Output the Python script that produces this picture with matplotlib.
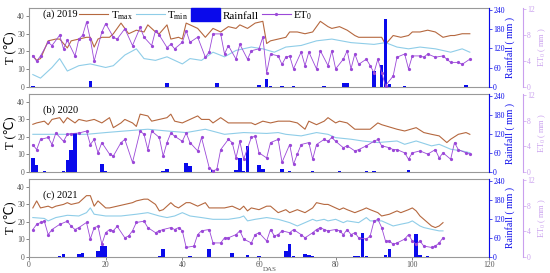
import matplotlib
matplotlib.use("Agg")
import matplotlib.pyplot as plt
from matplotlib.patches import Patch
from matplotlib.lines import Line2D

plt.rcParams['font.family'] = ['Liberation Serif', 'DejaVu Sans']
plt.rcParams['mathtext.fontset'] = 'custom'
plt.rcParams['mathtext.rm'] = 'Liberation Serif'
plt.rcParams['mathtext.it'] = 'Liberation Serif:italic'

# ---- 2019 ----
tmax19_day = [1, 2, 3, 5, 7, 8, 10, 11, 13, 15, 16, 17, 18, 19, 21, 22, 24, 26, 28, 30,
              31, 33, 34, 36, 37, 39, 40, 41, 43, 44, 46, 48, 50, 52, 54, 55, 57, 59, 61, 62,
              63, 65, 67, 68, 70, 72, 74, 76, 78, 79, 81, 83, 85, 86, 88, 90, 92, 93, 95, 97,
              99, 100, 102, 104, 106, 108, 110, 111, 113, 115]
tmax19 = [17.7, 15, 16, 26, 27, 27, 22, 26, 27, 28, 28, 22.5, 27, 28, 28, 30, 36, 30, 32, 31,
          35, 31, 30, 35, 27, 28, 27, 36, 34, 33, 28, 33, 31, 34, 33, 35, 33, 36, 37, 24.5,
          26, 27, 28, 31, 31, 30, 31, 37, 34, 33, 34, 32, 29, 28, 28, 28, 28, 24, 29, 28,
          29, 31, 31, 32, 31, 28, 29, 29, 30, 30]
tmin19_day = [1, 3, 6, 8, 10, 13, 16, 18, 20, 22, 25, 28, 30, 33, 36, 40, 42, 45, 48, 51,
              54, 58, 61, 64, 67, 71, 75, 79, 84, 90, 93, 96, 99, 102, 106, 110, 113, 115]
tmin19 = [7, 5, 11, 16, 9, 12, 13, 12, 11, 12, 18, 21.5, 16, 15, 17, 13, 16, 15, 19.6, 17,
          20.6, 22.5, 21.5, 19.6, 22.5, 23.4, 26, 27, 25, 24, 25, 22.5, 21.5, 22.5, 21.5, 19.6, 21.5, 19.6]
et19_day = [1, 2, 3, 5, 6, 8, 9, 10, 12, 13, 14, 15, 16, 17, 19, 20, 22, 23, 25, 27,
            29, 30, 32, 33, 34, 36, 37, 38, 40, 41, 42, 44, 46, 47, 48, 50, 51, 52, 54, 55,
            57, 58, 60, 61, 62, 63, 65, 66, 67, 68, 69, 71, 72, 73, 75, 76, 78, 79, 80, 82,
            83, 84, 85, 86, 88, 89, 90, 91, 92, 93, 95, 96, 98, 99, 100, 102, 103, 104, 106, 108,
            109, 110, 112, 113, 115]
et19 = [4.8, 4.0, 4.8, 6.9, 6.4, 8.0, 5.9, 7.2, 4.8, 7.4, 8.0, 10.0, 7.4, 4.0, 8.5, 9.8, 7.7, 7.4, 9.0, 6.4,
        9.2, 7.7, 6.4, 8.7, 8.0, 6.1, 6.6, 5.9, 6.9, 8.7, 6.9, 7.7, 4.6, 5.4, 8.2, 8.2, 5.1, 6.4, 4.3, 6.6,
        4.3, 5.6, 5.9, 7.7, 2.2, 5.1, 4.8, 3.5, 4.6, 4.8, 2.8, 5.4, 3.3, 5.4, 2.8, 5.6, 3.3, 5.6, 2.8, 4.3,
        5.6, 2.8, 5.1, 3.5, 4.3, 3.3, 2.2, 4.3, 2.2, 0.2, 1.7, 4.6, 5.1, 2.8, 4.8, 4.8, 4.6, 5.1, 4.6, 4.8,
        4.3, 3.8, 3.8, 3.5, 4.3]
rain19_day = [1, 16, 36, 49, 60, 62, 63, 66, 69, 77, 82, 83, 90, 92, 93, 94, 98, 114]
rain19 = [3, 19, 11, 11, 5, 26, 3, 3, 3, 3, 11, 11, 50, 68, 211, 8, 2, 7]

# ---- 2020 ----
tmax20_day = [1, 2, 4, 5, 6, 8, 9, 10, 12, 13, 15, 17, 19, 21, 22, 24, 25, 27, 28, 29,
              31, 32, 34, 36, 37, 38, 40, 42, 44, 45, 47, 48, 50, 52, 54, 56, 58, 59, 61, 63,
              65, 67, 68, 70, 72, 73, 75, 77, 78, 80, 81, 83, 85, 87, 89, 91, 92, 96, 98, 101,
              103, 105, 107, 109, 110, 112, 114, 115]
tmax20 = [27.2, 28, 29, 27, 30, 31, 28, 31, 28, 30, 29, 30, 28, 31, 25.3, 28, 30, 28, 26, 33,
          32, 29, 30, 31, 33, 29, 28, 30, 32, 30, 30, 28, 31, 28, 28, 28, 28, 27, 29, 28,
          29, 29, 29, 28, 24.4, 29, 27, 29, 31, 28, 29, 28, 24.4, 24.4, 24.4, 28, 27, 24.4, 23.4, 25.3,
          22.5, 21.5, 20.6, 16.8, 18.7, 21.5, 22.5, 21.5]
tmin20_day = [1, 5, 10, 15, 20, 25, 31, 36, 41, 46, 51, 56, 62, 65, 67, 71, 75, 78, 80, 84,
              87, 91, 96, 98, 101, 105, 107, 110, 113, 115]
tmin20 = [21.5, 21.5, 21.5, 21.5, 22.5, 23.4, 24.4, 23.4, 22.5, 24.4, 21.5, 22.5, 22, 22.5, 21.5,
          20.6, 22.5, 21.5, 19.6, 18.7, 17.7, 16.8, 17.7, 15.8, 17.7, 14.9, 15.8, 13, 12, 11]
et20_day = [1, 2, 3, 5, 6, 7, 9, 10, 11, 13, 15, 16, 17, 18, 19, 21, 22, 24, 25, 27,
            29, 30, 31, 32, 34, 35, 36, 37, 38, 40, 41, 42, 44, 45, 47, 48, 49, 50, 52, 53,
            54, 55, 56, 58, 59, 60, 62, 63, 65, 66, 68, 69, 70, 71, 73, 74, 75, 77, 78, 79,
            80, 82, 83, 85, 86, 88, 90, 91, 92, 94, 95, 96, 98, 99, 100, 102, 104, 106, 107, 108,
            110, 111, 112, 114, 115]
et20 = [4.3, 3.5, 5.1, 5.4, 4.3, 6.1, 4.8, 5.9, 6.0, 6.1, 6.4, 4.3, 5.1, 3.0, 4.6, 2.8, 2.5, 4.6, 5.1, 1.5,
        6.4, 5.9, 3.5, 6.4, 5.4, 2.5, 4.6, 6.1, 5.6, 4.8, 6.1, 4.6, 3.3, 5.4, 0.7, 0.2, 0.4, 3.5, 5.1, 4.6,
        2.2, 4.8, 2.0, 5.4, 5.6, 3.0, 2.2, 4.6, 5.1, 1.5, 4.3, 1.2, 2.8, 4.3, 4.6, 2.0, 4.3, 5.1, 4.8, 5.4,
        4.8, 3.8, 4.1, 3.3, 3.5, 4.1, 4.8, 5.1, 4.1, 3.8, 3.5, 3.5, 3.0, 2.0, 3.0, 3.3, 2.8, 3.5, 2.2, 3.0,
        2.0, 4.6, 3.5, 3.0, 2.8]
rain20_day = [1, 2, 4, 5, 9, 10, 11, 12, 13, 19, 20, 35, 36, 41, 42, 48, 54, 55, 56, 57,
              60, 61, 66, 68, 74, 81, 88, 90, 99]
rain20 = [45, 22, 2, 1, 2, 37, 69, 123, 1, 24, 3, 3, 8, 29, 19, 5, 6, 45, 4, 81,
          22, 8, 8, 3, 2, 3, 2, 3, 5]

# ---- 2021 ----
tmax21_day = [1, 2, 3, 5, 6, 7, 9, 10, 11, 13, 14, 15, 16, 17, 18, 20, 21, 23, 25, 27,
              28, 30, 31, 33, 34, 35, 37, 38, 39, 41, 42, 44, 46, 47, 49, 51, 53, 55, 56, 57,
              58, 60, 62, 63, 65, 67, 68, 70, 72, 74, 75, 77, 78, 79, 81, 82, 83, 85, 87, 88,
              89, 91, 92, 94, 96, 97, 99, 100, 101, 102, 104, 105, 106, 107, 108]
tmax21 = [28, 32, 28, 29, 28, 29, 30, 31, 30, 31, 33, 35, 35, 29, 32, 28, 28, 29, 30, 31,
          32, 33, 33, 30, 26.3, 27, 31, 29, 28, 31, 31, 29, 31, 28, 28, 28, 29, 27, 29, 26.3,
          28, 27, 29, 29, 25.3, 27, 25.3, 27, 25.3, 28, 31, 30, 30, 29, 27, 28, 27, 25.3, 27, 28,
          27, 25.3, 23.4, 24.4, 26.3, 25.3, 27, 28, 26.3, 23.4, 19.6, 17.7, 16.8, 17.7, 19.6]
tmin21_day = [1, 4, 5, 7, 10, 13, 15, 16, 17, 20, 24, 28, 31, 34, 36, 38, 40, 42, 45, 48,
              52, 55, 56, 57, 59, 62, 65, 68, 70, 72, 74, 75, 77, 78, 80, 82, 83, 86, 88, 89,
              92, 95, 97, 99, 100, 102, 103, 105, 107, 108]
tmin21 = [22.5, 22, 20.6, 22.5, 23.8, 23.4, 25.3, 28, 24.4, 23.4, 23.4, 24.4, 25.3, 23.4, 22.5, 23.4, 25.3, 23.4, 22.5, 21.5,
          21.5, 22.5, 23.4, 20.6, 21.5, 22.5, 21.5, 19.6, 17.7, 19.6, 21.5, 20.6, 21.5, 20.6, 21.5, 19.6, 20.6, 19.6, 22.5, 20.6,
          20.6, 17.7, 18.7, 19.6, 20.6, 17.7, 16.8, 15.8, 14.9, 14.9]
et21_day = [1, 2, 3, 4, 5, 6, 8, 10, 11, 12, 13, 15, 16, 17, 18, 19, 20, 21, 22, 23,
            25, 26, 27, 28, 30, 31, 33, 34, 35, 37, 38, 39, 40, 41, 43, 44, 45, 47, 48, 50,
            51, 52, 54, 55, 56, 58, 59, 60, 62, 63, 64, 65, 66, 68, 69, 71, 72, 74, 75, 76,
            77, 78, 80, 81, 82, 83, 84, 85, 86, 88, 89, 90, 91, 92, 93, 94, 95, 96, 98, 99,
            100, 101, 102, 103, 105, 106, 107, 108]
et21 = [4.3, 5.1, 5.4, 5.6, 3.5, 4.3, 5.1, 5.6, 4.8, 4.3, 4.6, 5.4, 2.8, 4.6, 4.8, 2.0, 3.8, 4.3, 4.1, 4.8,
        3.0, 3.3, 4.1, 5.4, 5.6, 4.6, 3.8, 4.1, 4.3, 4.6, 4.3, 4.6, 4.1, 1.5, 1.7, 3.5, 4.1, 4.3, 2.2, 2.2,
        3.0, 3.0, 3.5, 4.1, 2.8, 2.2, 3.5, 3.8, 2.5, 4.3, 3.3, 3.5, 4.1, 3.8, 4.3, 3.5, 3.0, 3.8, 4.3, 4.6,
        4.3, 4.1, 4.3, 4.1, 3.5, 4.3, 3.5, 3.8, 3.0, 2.8, 3.3, 5.6, 5.9, 4.6, 2.5, 2.5, 2.0, 2.2, 2.8, 3.5,
        2.5, 2.0, 2.5, 1.7, 1.5, 1.7, 2.2, 3.0]
rain21_day = [8, 9, 13, 14, 18, 19, 20, 34, 35, 42, 47, 53, 57, 60, 67, 68, 69, 72, 73, 74,
              85, 86, 87, 88, 93, 94, 101, 102, 104]
rain21 = [3, 8, 11, 13, 19, 34, 34, 3, 26, 2, 24, 13, 6, 2, 19, 40, 3, 11, 6, 2,
          2, 2, 76, 3, 5, 24, 74, 6, 3]

labels = ['(a) 2019', '(b) 2020', '(c) 2021']

c_tmax = '#b5683f'
c_tmin = '#8fcde8'
c_rain = '#0a0aeb'
c_et = '#9b48d8'
c_et_ax = '#c9a0ee'
c_grey = '#999999'

fig = plt.figure(figsize=(5.5, 2.73), dpi=100)

# axes rectangles in pixels: (top, bottom)
rows = [(8, 87), (94, 172), (179, 257)]
left, right = 29, 489
W, H = 550, 273

years = [
    (tmax19_day, tmax19, tmin19_day, tmin19, et19_day, et19, rain19_day, rain19),
    (tmax20_day, tmax20, tmin20_day, tmin20, et20_day, et20, rain20_day, rain20),
    (tmax21_day, tmax21, tmin21_day, tmin21, et21_day, et21, rain21_day, rain21),
]

for i, (top, bot) in enumerate(rows):
    tx_d, tx, tn_d, tn, e_d, e, r_d, r = years[i]
    ax = fig.add_axes([left / W, 1 - bot / H, (right - left) / W, (bot - top) / H])
    ax2 = ax.twinx()
    ax3 = ax.twinx()

    ax.plot(tx_d, tx, color=c_tmax, lw=0.8)
    ax.plot(tn_d, tn, color=c_tmin, lw=0.8)
    ax2.bar(r_d, r, width=0.9, color=c_rain)
    ax3.plot(e_d, e, color=c_et, lw=0.6, marker='o', ms=1.3)

    ax.set_xlim(0, 120)
    ax.set_ylim(0, 44.5)
    ax2.set_ylim(0, 246)
    ax3.set_ylim(0, 12.2)

    ax.set_yticks([0, 10, 20, 30, 40])
    ax2.set_yticks([0, 60, 120, 180, 240])
    ax3.set_yticks([0, 4, 8, 12])

    for s in ax.spines.values():
        s.set_color(c_grey)
    ax2.spines['right'].set_color(c_rain)
    for name in ['left', 'top', 'bottom']:
        ax2.spines[name].set_visible(False)
        ax3.spines[name].set_visible(False)
    # 34 px outward (points at 100 dpi)
    ax3.spines['right'].set_position(('outward', 34 * 0.72))
    ax3.spines['right'].set_color(c_et_ax)

    ax.tick_params(axis='y', labelsize=5.5, colors='#555555', length=2, width=0.5, pad=1)
    ax.tick_params(axis='x', labelsize=5.5, colors='#555555', length=2, width=0.5, pad=1)
    ax2.tick_params(axis='y', labelsize=5.5, colors=c_rain, length=2, width=0.5, pad=1)
    ax3.tick_params(axis='y', labelsize=5.5, colors=c_et_ax, length=2, width=0.5, pad=1)

    if i < 2:
        ax.set_xticks([])
    else:
        ax.set_xticks([0, 20, 40, 60, 80, 100, 120])

    ax.set_ylabel('T (℃)', fontsize=9, labelpad=1)
    ax2.set_ylabel('Rainfall ( mm )', fontsize=7, color=c_rain, labelpad=0.5)
    ax3.set_ylabel('ET$_0$ ( mm )', fontsize=6, color=c_et_ax, labelpad=1)

    ax.text(0.03, 0.98 if i == 0 else 0.85, labels[i], transform=ax.transAxes,
            fontsize=7.5, va='top', ha='left')

    if i == 0:
        handles = [
            Line2D([], [], color=c_tmax, lw=0.8),
            Line2D([], [], color=c_tmin, lw=0.8),
            Patch(color=c_rain),
            Line2D([], [], color=c_et, lw=0.8, marker='o', ms=1.3),
        ]
        ax.legend(handles, ['T$_{\\rm max}$', 'T$_{\\rm min}$', 'Rainfall', 'ET$_0$'],
                  ncol=4, frameon=False, fontsize=8, loc='upper left',
                  bbox_to_anchor=(0.1, 1.05), handlelength=2.6, handleheight=1.4,
                  handletextpad=0.2, columnspacing=0.3, borderaxespad=0)

fig.text(0.49, 0.002, 'DAS', fontsize=5, ha='center', va='bottom', color='#555555')

fig.savefig('out.png', dpi=100)
